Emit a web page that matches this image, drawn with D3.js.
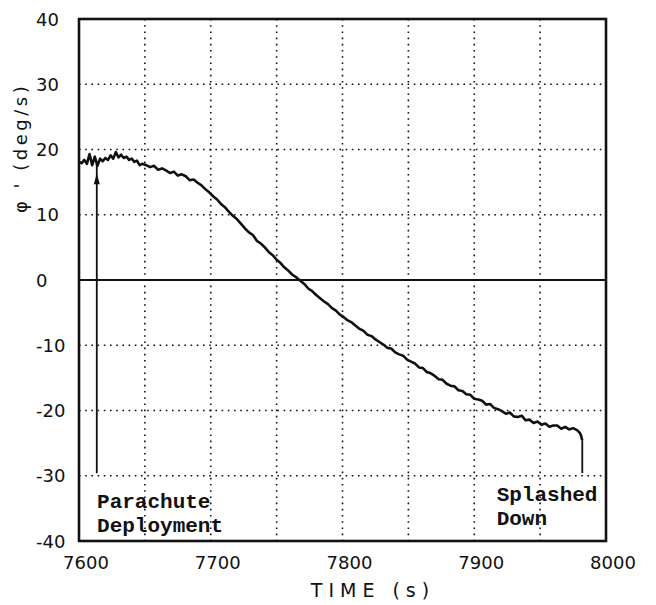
<!DOCTYPE html>
<meta charset="utf-8">
<head>
<style>
    body {margin: 0; background: #fff;}
    .grid line {stroke: #111; stroke-width: 1.6; stroke-dasharray: 1.6,4.6;}
    .tick-lab {font-family: "DejaVu Sans", sans-serif; font-size: 18px; fill: #111;}
    .note {font-family: "Liberation Mono", monospace; font-size: 21px; font-weight: bold; fill: #111;}
</style>
</head>
<body>
<div class="chart"></div>
</body>
<script src="https://d3js.org/d3.v7.min.js"></script>
<script>
// roll rate after re-entry
var phiDot = [
    [7600,18.1],[7602,17.9],[7604,18.4],[7606,17.8],[7608,19.3],[7610,17.6],[7612,18.9],
    [7614,17.5],[7616,18.6],[7618,18.2],[7620,18.7],[7622,18.4],[7624,19.1],[7626,18.6],
    [7628,19.6],[7630,18.8],[7632,19.2],[7634,18.7],[7636,18.9],[7638,18.4],[7640,18.6],
    [7642,18.1],[7644,18.3],[7646,17.6],[7648,17.8],[7651,17.6],[7654,17.3],[7657,17.5],
    [7660,16.9],[7663,17.1],[7666,16.8],[7669,16.4],[7672,16.6],[7675,16.0],[7678,16.2],
    [7681,15.9],[7684,15.3],[7687,15.4],[7690,14.9],[7693,14.5],[7696,13.9],[7699,13.4],
    [7702,12.8],[7705,12.3],[7708,11.6],[7711,11.1],[7714,10.4],[7717,9.8],[7720,9.3],
    [7723,8.6],[7726,7.9],[7729,7.3],[7732,6.9],[7735,6.0],[7738,5.6],[7741,5.0],
    [7744,4.3],[7747,3.8],[7750,3.1],[7753,2.6],[7756,1.9],[7759,1.4],[7762,0.8],
    [7765,0.4],[7768,-0.1],[7771,-0.6],[7774,-1.3],[7777,-1.7],[7780,-2.3],[7783,-2.8],
    [7786,-3.3],[7789,-3.7],[7792,-4.3],[7795,-4.7],[7798,-5.3],[7801,-5.7],[7804,-6.2],
    [7807,-6.5],[7810,-7.0],[7813,-7.5],[7816,-7.8],[7819,-8.4],[7822,-8.6],[7825,-9.1],
    [7828,-9.5],[7831,-9.9],[7834,-10.4],[7837,-10.5],[7840,-11.1],[7843,-11.4],[7846,-11.6],
    [7849,-12.2],[7852,-12.5],[7855,-12.8],[7858,-13.4],[7861,-13.5],[7864,-14.1],[7867,-14.3],
    [7870,-14.7],[7873,-15.2],[7876,-15.3],[7879,-15.9],[7882,-16.2],[7885,-16.3],[7888,-16.9],
    [7891,-17.0],[7894,-17.5],[7897,-17.6],[7900,-18.2],[7903,-18.3],[7906,-18.5],[7909,-19.1],
    [7912,-19.0],[7915,-19.6],[7918,-19.8],[7921,-20.1],[7924,-20.5],[7927,-20.3],[7930,-20.9],
    [7933,-21.0],[7936,-20.8],[7939,-21.5],[7942,-21.4],[7945,-21.9],[7948,-21.7],[7951,-22.2],
    [7954,-22.0],[7957,-22.5],[7960,-22.3],[7963,-22.3],[7966,-22.8],[7969,-22.5],[7972,-22.9],
    [7975,-22.7],[7978,-23.0],[7980,-23.4],[7981,-23.8],[7982,-24.6]
];
// event markers: time, top value, bottom value
var events = [
    {name: "deploy", t: 7613.5, top: 18.2, bottom: -29.6, arrowAt: 15.6},
    {name: "splash", t: 7982, top: -24.6, bottom: -29.6}
];
var xTicks = [7600, 7700, 7800, 7900, 8000];
var yTicks = [40, 30, 20, 10, 0, -10, -20, -30, -40];
var xGrid = [7650, 7700, 7750, 7800, 7850, 7900, 7950];
var yGrid = [30, 20, 10, -10, -20, -30];
var notes = [
    {text: "Parachute", t: 7613.7, v: -34.9},
    {text: "Deployment", t: 7613.7, v: -38.6},
    {text: "Splashed", t: 7917, v: -33.9},
    {text: "Down", t: 7917, v: -37.5}
];

var margin = {top: 19, left: 79},
    width = 527, height = 522;

var svg = d3.select(".chart").append("svg")
    .attr("width", 656)
    .attr("height", 605);

var g = svg.append("g").attr("transform", "translate(" + margin.left + "," + margin.top + ")");

var x = d3.scaleLinear().domain([7600, 8000]).range([0, width]);
var y = d3.scaleLinear().domain([-40, 40]).range([height, 0]);

// dotted grid
var grid = g.append("g").attr("class", "grid");
grid.selectAll(".vx").data(xGrid).enter().append("line")
    .attr("x1", function (d) { return x(d); })
    .attr("x2", function (d) { return x(d); })
    .attr("y1", 0).attr("y2", height);
grid.selectAll(".hy").data(yGrid).enter().append("line")
    .attr("x1", 0).attr("x2", width)
    .attr("y1", function (d) { return y(d); })
    .attr("y2", function (d) { return y(d); });

// zero line
g.append("line")
    .attr("x1", 0).attr("x2", width)
    .attr("y1", y(0)).attr("y2", y(0))
    .attr("stroke", "#111").attr("stroke-width", 2);

// event verticals
g.selectAll(".ev").data(events).enter().append("line")
    .attr("x1", function (d) { return x(d.t); })
    .attr("x2", function (d) { return x(d.t); })
    .attr("y1", function (d) { return y(d.top); })
    .attr("y2", function (d) { return y(d.bottom); })
    .attr("stroke", "#111").attr("stroke-width", 1.8);

events.filter(function (d) { return d.arrowAt !== undefined; }).forEach(function (d) {
    var ax = x(d.t), ay = y(d.arrowAt);
    g.append("path")
        .attr("d", "M" + ax + "," + (ay - 5) + "L" + (ax - 3) + "," + (ay + 6) + "L" + (ax + 3) + "," + (ay + 6) + "Z")
        .attr("fill", "#111");
});

// data curve
var line = d3.line()
    .x(function (d) { return x(d[0]); })
    .y(function (d) { return y(d[1]); });
g.append("path")
    .datum(phiDot)
    .attr("d", line)
    .attr("fill", "none")
    .attr("stroke", "#111")
    .attr("stroke-width", 2.6)
    .attr("stroke-linejoin", "round");

// frame
g.append("rect")
    .attr("width", width).attr("height", height)
    .attr("fill", "none").attr("stroke", "#111").attr("stroke-width", 2.6);

// tick labels
g.selectAll(".xl").data(xTicks).enter().append("text")
    .attr("class", "tick-lab")
    .attr("x", function (d) { return x(d) + 7; })
    .attr("y", height + 28)
    .attr("text-anchor", "middle")
    .text(function (d) { return d; });

g.selectAll(".yl").data(yTicks).enter().append("text")
    .attr("class", "tick-lab")
    .attr("x", -43)
    .attr("y", function (d) { return y(d) + 6.5; })
    .attr("text-anchor", "start")
    .text(function (d) { return d < 0 ? "-" + Math.abs(d) : d; });

// axis titles
svg.append("text")
    .attr("class", "tick-lab")
    .attr("x", 373).attr("y", 597)
    .attr("text-anchor", "middle")
    .style("font-size", "19px")
    .style("letter-spacing", "6px")
    .text("TIME (s)");

svg.append("text")
    .attr("class", "tick-lab")
    .attr("transform", "translate(27,213) rotate(-90)")
    .attr("text-anchor", "start")
    .style("font-size", "18px")
    .style("letter-spacing", "3.5px")
    .text("\u03c6 ' (deg/s)");

// annotations
g.selectAll(".note").data(notes).enter().append("text")
    .attr("class", "note")
    .attr("x", function (d) { return x(d.t); })
    .attr("y", function (d) { return y(d.v); })
    .text(function (d) { return d.text; });
</script>
</body>
